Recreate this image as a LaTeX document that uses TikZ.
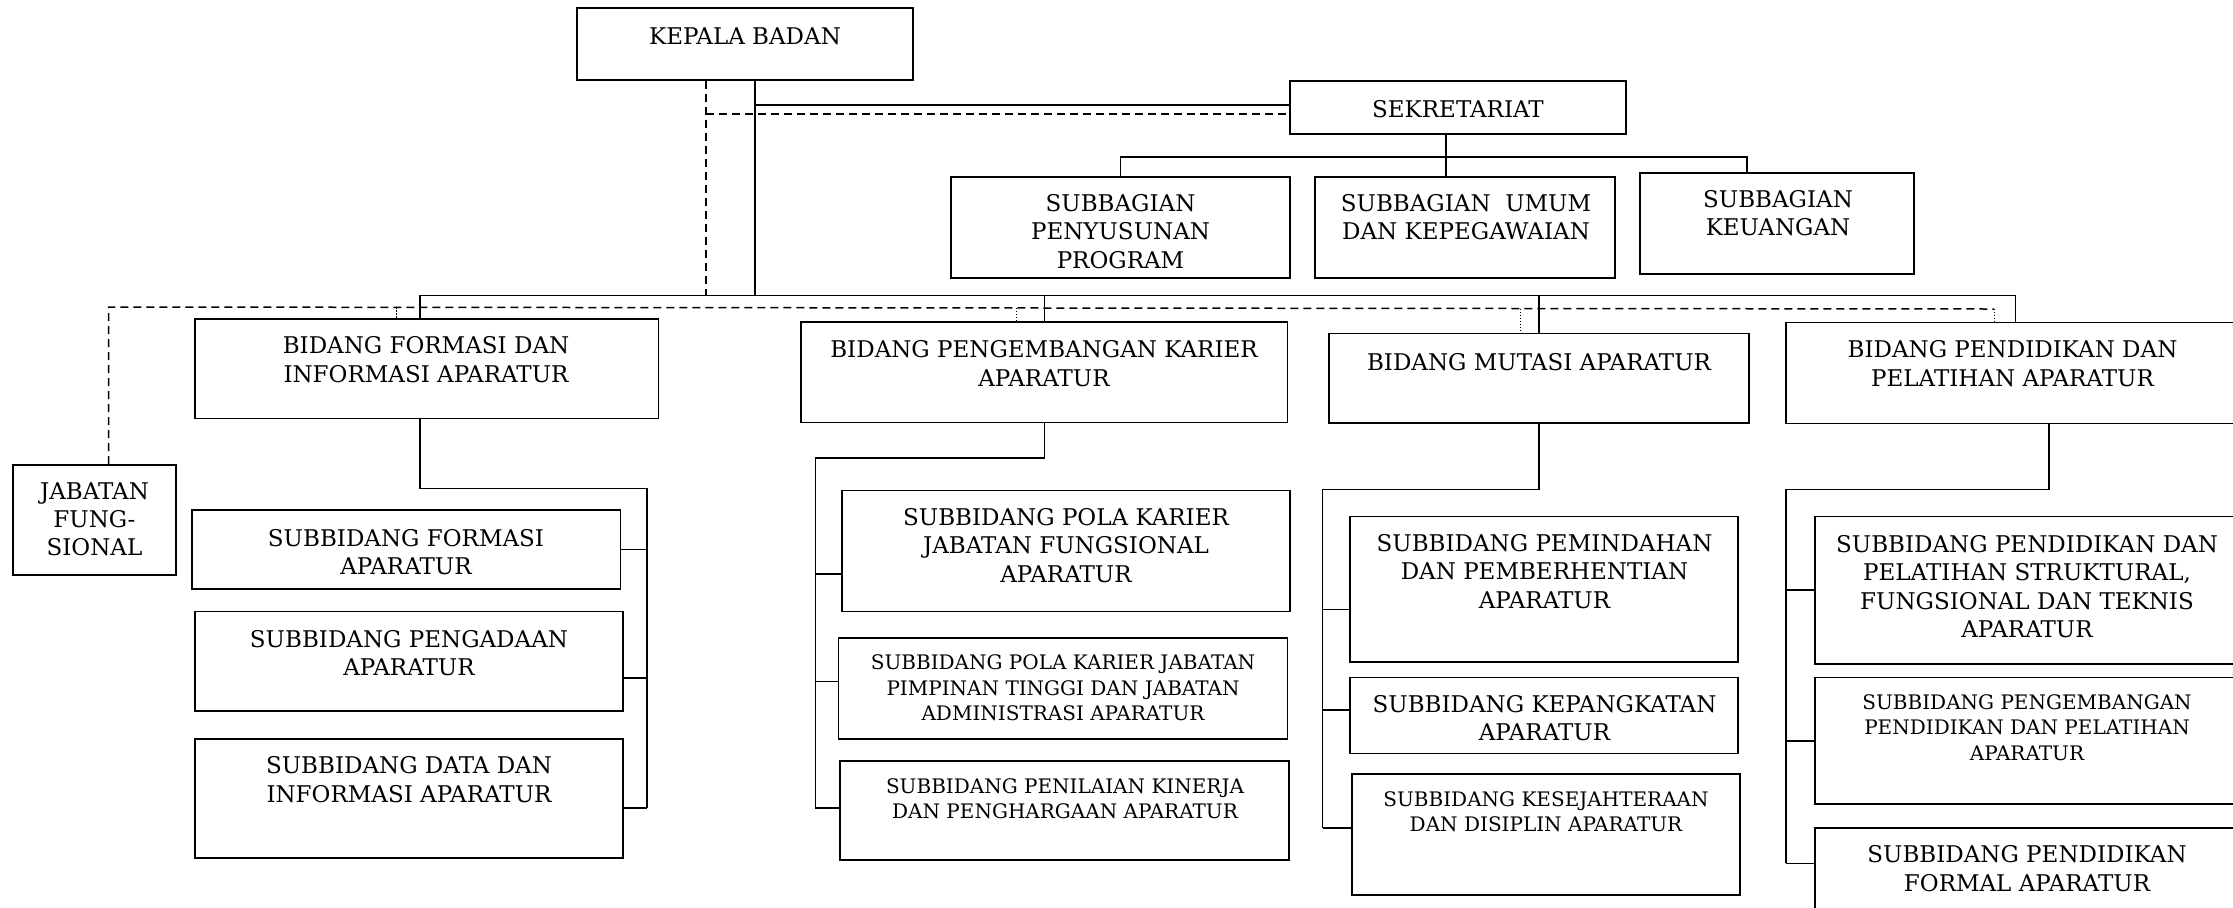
\documentclass[tikz,border=0pt]{standalone}
\usepackage{fontspec}
\setmainfont{DejaVu Serif}
\usetikzlibrary{fit}
\newcommand{\obox}[5]{\node[box, fit={(#2,#3) (#4,#5)}] (#1) {};}
\begin{document}
\begin{tikzpicture}[x=0.5pt,y=-0.5pt,
  box/.style={draw, line width=0.8pt, inner sep=0pt},
  lbl/.style={align=center, inner sep=0pt, anchor=north, font=\fontsize{11.5}{14.2}\selectfont},
  lbls/.style={lbl, font=\fontsize{10}{12.8}\selectfont},
  conn/.style={line width=0.75pt},
  dconn/.style={line width=0.75pt, dash pattern=on 4pt off 2.5pt},
  dotc/.style={line width=0.5pt, dash pattern=on 0.6pt off 0.9pt}]
\useasboundingbox (0,0) rectangle (2233,907);
\clip (0,0) rectangle (2233,907);
\fill[white] (0,0) rectangle (2233,907);

% boxes
\obox{kepala}{577}{8}{913}{80}
\obox{sekr}{1290}{81}{1626}{134}
\obox{penyusunan}{951}{177}{1290}{278}
\obox{umum}{1315}{177}{1615}{278}
\obox{keuangan}{1640}{173}{1914}{274}
\obox{jabatan}{13}{465}{176}{575}
\obox{bformasi}{195}{319}{658.5}{418.5}
\obox{bpeng}{801}{322}{1287.5}{422.5}
\obox{bmutasi}{1329}{333.5}{1749}{423}
\obox{bpend}{1786}{322.4}{2245}{423.3}
\obox{sformasi}{192}{510}{620.5}{589}
\obox{spengadaan}{195}{611.5}{623}{710.7}
\obox{sdata}{195}{738.8}{623}{858}
\obox{spkjf}{842}{490.5}{1290}{611.5}
\obox{spkjpt}{838.6}{638}{1287.5}{738.8}
\obox{spenilaian}{840}{761}{1289}{860}
\obox{spemindahan}{1350}{516.6}{1738}{661.7}
\obox{skepangkatan}{1350}{677.5}{1738}{753.4}
\obox{skesejahteraan}{1351.7}{774}{1740}{895}
\obox{sstruktural}{1815}{516.6}{2245}{663.7}
\obox{spengdik}{1815}{677.5}{2245}{804}
\obox{sformal}{1815}{827.8}{2245}{930}

% texts
\node[lbl] (tkepala) at (745,27) {KEPALA BADAN};
\node[lbl] (tsekr) at (1458,100) {SEKRETARIAT};
\node[lbl] (tpenyusunan) at (1120.5,194) {SUBBAGIAN\\PENYUSUNAN\\PROGRAM};
\node[lbl] (tumum) at (1466,194) {SUBBAGIAN\ \ UMUM\\DAN KEPEGAWAIAN};
\node[lbl] (tkeuangan) at (1778,190) {SUBBAGIAN\\KEUANGAN};
\node[lbl] (tjabatan) at (94.5,482) {JABATAN\\FUNG-\\SIONAL};
\node[lbl] (tbformasi) at (426,336.5) {BIDANG FORMASI DAN\\INFORMASI APARATUR};
\node[lbl] (tbpeng) at (1044,340.5) {BIDANG PENGEMBANGAN KARIER\\APARATUR};
\node[lbl] (tbmutasi) at (1539,353) {BIDANG MUTASI APARATUR};
\node[lbl] (tbpend) at (2012.5,340.5) {BIDANG PENDIDIKAN DAN\\PELATIHAN APARATUR};
\node[lbl] (tsformasi) at (406,529) {SUBBIDANG FORMASI\\APARATUR};
\node[lbl] (tspengadaan) at (409,630) {SUBBIDANG PENGADAAN\\APARATUR};
\node[lbl] (tsdata) at (409,756.5) {SUBBIDANG DATA DAN\\INFORMASI APARATUR};
\node[lbl] (tspkjf) at (1066,508) {SUBBIDANG POLA KARIER\\JABATAN FUNGSIONAL\\APARATUR};
\node[lbls] (tspkjpt) at (1063,654.5) {SUBBIDANG POLA KARIER JABATAN\\PIMPINAN TINGGI DAN JABATAN\\ADMINISTRASI APARATUR};
\node[lbls] (tspenilaian) at (1065,778) {SUBBIDANG PENILAIAN KINERJA\\DAN PENGHARGAAN APARATUR};
\node[lbl] (tspemindahan) at (1544.5,534) {SUBBIDANG PEMINDAHAN\\DAN PEMBERHENTIAN\\APARATUR};
\node[lbl] (tskepangkatan) at (1544.5,695) {SUBBIDANG KEPANGKATAN\\APARATUR};
\node[lbls] (tskesejahteraan) at (1546,791) {SUBBIDANG KESEJAHTERAAN\\DAN DISIPLIN APARATUR};
\node[lbl] (tsstruktural) at (2027,535) {SUBBIDANG PENDIDIKAN DAN\\PELATIHAN STRUKTURAL,\\FUNGSIONAL DAN TEKNIS\\APARATUR};
\node[lbls] (tspengdik) at (2027,694) {SUBBIDANG PENGEMBANGAN\\PENDIDIKAN DAN PELATIHAN\\APARATUR};
\node[lbl] (tsformal) at (2027,845.5) {SUBBIDANG PENDIDIKAN\\FORMAL APARATUR};

% coordinates
\coordinate (busL) at (420,295.5);
\coordinate (dbusL) at (108.5,307);
\coordinate (dbusR) at (1994,309);
\coordinate (sk1) at ([yshift=1.25pt]sekr.west);
\coordinate (sk2) at ([yshift=-3.25pt]sekr.west);
\coordinate (ks) at ([xshift=5pt]kepala.south);
\coordinate (kd) at ([xshift=-19.5pt]kepala.south);

% kepala - sekretariat
\draw[conn] (ks) -- (ks |- busL);
\draw[conn] (ks |- sk1) -- (sk1);
\draw[dconn] (kd) -- (kd |- busL);
\draw[dconn] (kd |- sk2) -- (sk2);

% bidang bus
\draw[conn] (busL |- bformasi.north) -- (busL) -- (bpend.north |- busL) -- (bpend.north);
\draw[conn] (bpeng.north |- busL) -- (bpeng.north);
\draw[conn] (bmutasi.north |- busL) -- (bmutasi.north);

% dashed bus to jabatan fungsional
\draw[dconn] (jabatan.north -| dbusL) -- (dbusL) -- (dbusR);
\coordinate (d1) at (396,307.3);
\coordinate (d2) at (1016.4,308);
\coordinate (d3) at (1520,308.6);
\draw[dotc] (d1) -- (d1 |- bformasi.north);
\draw[dotc] (d2) -- (d2 |- bpeng.north);
\draw[dotc] (d3) -- (d3 |- bmutasi.north);
\draw[dotc] (dbusR) -- (dbusR |- bpend.north);

% sekretariat subtree
\coordinate (sbus) at (0,157);
\coordinate (sb) at ([xshift=-6pt]sekr.south);
\coordinate (ku) at ([xshift=-15pt]keuangan.north);
\draw[conn] (sb) -- (sb |- umum.north);
\draw[conn] (penyusunan.north) -- (penyusunan.north |- sbus) -- (ku |- sbus) -- (ku);

% formasi subtree
\coordinate (fs) at (647,488.5);
\coordinate (p2) at ([yshift=-8.5pt]spengadaan.east);
\coordinate (p3) at ([yshift=-4.8pt]sdata.east);
\draw[conn] (busL |- bformasi.south) -- (busL |- fs) -- (fs) -- (fs |- p3);
\draw[conn] (sformasi.east) -- (sformasi.east -| fs);
\draw[conn] (p2) -- (p2 -| fs);
\draw[conn] (p3) -- (p3 -| fs);

% pengembangan subtree
\coordinate (ps) at (815.4,458);
\coordinate (q1) at ([yshift=-11.5pt]spkjf.west);
\coordinate (q2) at ([yshift=3.5pt]spkjpt.west);
\coordinate (q3) at ([yshift=1.25pt]spenilaian.west);
\draw[conn] (bpeng.south) -- (bpeng.south |- ps) -- (ps) -- (ps |- q3);
\draw[conn] (q1) -- (q1 -| ps);
\draw[conn] (q2) -- (q2 -| ps);
\draw[conn] (q3) -- (q3 -| ps);

% mutasi subtree
\coordinate (ms) at (1322.7,489.7);
\coordinate (m1) at ([yshift=-10.25pt]spemindahan.west);
\coordinate (m2) at ([yshift=2.75pt]skepangkatan.west);
\coordinate (m3) at ([yshift=3.35pt]skesejahteraan.west);
\draw[conn] (bmutasi.south) -- (bmutasi.south |- ms) -- (ms) -- (ms |- m3);
\draw[conn] (m1) -- (m1 -| ms);
\draw[conn] (m2) -- (m2 -| ms);
\draw[conn] (m3) -- (m3 -| ms);

% pendidikan subtree
\coordinate (es) at (1786,489.7);
\coordinate (eb) at ([xshift=16.75pt]bpend.south);
\coordinate (e3) at ([yshift=7.8pt]sformal.west);
\draw[conn] (eb) -- (eb |- es) -- (es) -- (es |- e3);
\draw[conn] (sstruktural.west) -- (sstruktural.west -| es);
\draw[conn] (spengdik.west) -- (spengdik.west -| es);
\draw[conn] (e3) -- (e3 -| es);
\end{tikzpicture}
\end{document}
